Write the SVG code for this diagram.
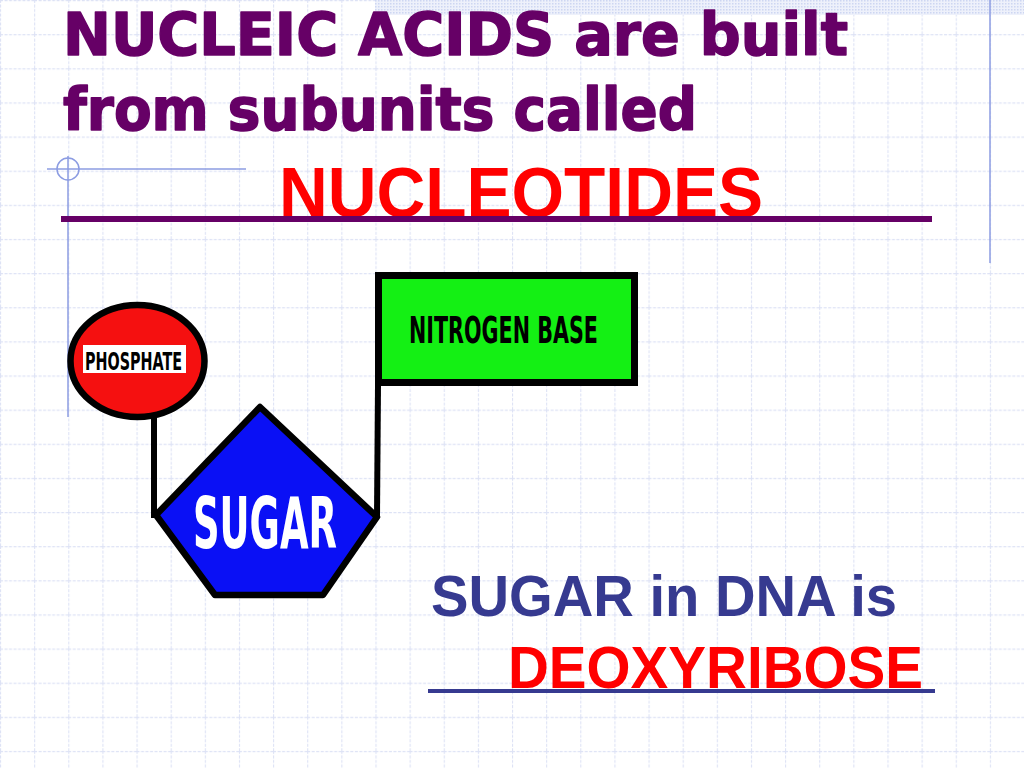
<svg xmlns="http://www.w3.org/2000/svg" width="1024" height="768" viewBox="0 0 1024 768">
<defs>
<pattern id="grid" width="34.133" height="34.133" patternUnits="userSpaceOnUse">
<path d="M0 0.5H34.133M0.5 0V34.133" fill="none" stroke="#dde2f5" stroke-width="1.2" stroke-dasharray="3 1.5"/>
</pattern>
<pattern id="dots" width="3" height="3" patternUnits="userSpaceOnUse">
<rect width="3" height="3" fill="#eef1fb"/>
<rect width="1.5" height="1.5" fill="#cdd6f2"/>
</pattern>
</defs>
<style>
.title{font-family:"DejaVu Sans","Noto Sans",sans-serif;font-weight:bold;fill:#660066;stroke:#660066;stroke-width:1.6;stroke-linejoin:round}
.arial{font-family:"Liberation Sans",Arial,sans-serif;font-weight:bold}
.cond{font-family:"DejaVu Sans Condensed","Liberation Sans Narrow","Liberation Sans",sans-serif;font-weight:bold}
.accent{stroke:#8c9ce2;stroke-width:1.5;fill:none}
.shape{stroke:#000;stroke-width:6.5}
.conn{stroke:#000;stroke-width:6;fill:none}
</style>
<rect width="1024" height="768" fill="#ffffff"/>
<rect width="1024" height="768" fill="url(#grid)"/>
<rect x="375" y="0" width="649" height="15" fill="url(#dots)"/>
<g id="accents">
<line class="accent" x1="990" y1="0" x2="990" y2="263"/>
<line class="accent" x1="68" y1="156" x2="68" y2="417"/>
<line class="accent" x1="47" y1="169" x2="246" y2="169"/>
<circle class="accent" cx="68" cy="169" r="11"/>
</g>
<text class="title" x="63" y="55" font-size="59" textLength="785" lengthAdjust="spacingAndGlyphs">NUCLEIC ACIDS are built</text>
<text class="title" x="63" y="130" font-size="59" textLength="634" lengthAdjust="spacingAndGlyphs">from subunits called</text>
<text class="arial" x="279" y="217" font-size="70" fill="#ff0000" textLength="484" lengthAdjust="spacingAndGlyphs">NUCLEOTIDES</text>
<rect x="61" y="216" width="871" height="6" fill="#660066"/>
<g id="connectors">
<polyline class="conn" points="154,415 154,515 158,515"/>
<polyline class="conn" points="377,517 378,385"/>
</g>
<g id="node-phosphate">
<ellipse class="shape" cx="137.5" cy="361" rx="67" ry="56" fill="#f51010"/>
<rect x="83" y="345" width="103" height="28" fill="#ffffff"/>
<text class="cond" x="85" y="370" font-size="24" fill="#000" textLength="97" lengthAdjust="spacingAndGlyphs">PHOSPHATE</text>
</g>
<g id="node-sugar">
<polygon class="shape" points="260,407 377,517 323,595 215,595 156,515" fill="#0a10f5" stroke-linejoin="round"/>
<text class="cond" x="193" y="548" font-size="72" fill="#ffffff" textLength="144" lengthAdjust="spacingAndGlyphs">SUGAR</text>
</g>
<g id="node-base">
<rect x="378.5" y="275.5" width="256" height="107" fill="#14f014" stroke="#000" stroke-width="7"/>
<text class="cond" x="409" y="343" font-size="38" fill="#000" textLength="189" lengthAdjust="spacingAndGlyphs">NITROGEN BASE</text>
</g>
<text class="arial" x="431" y="616" font-size="57" fill="#363a90" textLength="466" lengthAdjust="spacingAndGlyphs">SUGAR in DNA is</text>
<text class="arial" x="508" y="688" font-size="59" fill="#ff0000" textLength="415" lengthAdjust="spacingAndGlyphs">DEOXYRIBOSE</text>
<rect x="428" y="689" width="507" height="4" fill="#363a90"/>
</svg>
